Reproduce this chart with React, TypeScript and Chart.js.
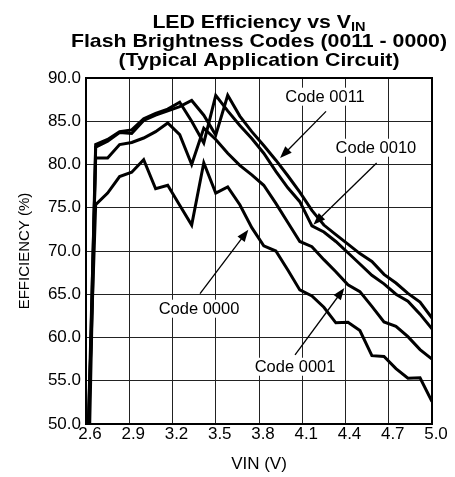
import React, { useEffect, useRef } from "react";
import { Chart, registerables } from "chart.js";

Chart.register(...registerables);

// ---- data ----
const vin = [
  2.6, 2.667, 2.75, 2.833, 2.917, 3.0, 3.083, 3.167, 3.25, 3.333, 3.417, 3.5, 3.583, 3.667, 3.75,
  3.833, 3.917, 4.0, 4.083, 4.167, 4.25, 4.333, 4.417, 4.5, 4.583, 4.667, 4.75, 4.833, 4.917, 5.0,
];
const code0011 = [
  30, 82.0, 82.7, 83.7, 83.6, 85.1, 85.7, 86.2, 86.7, 87.4, 85.7, 83.4, 88.0, 85.6, 83.8,
  82.2, 80.5, 78.7, 76.8, 74.7, 73.0, 71.9, 70.8, 69.7, 68.8, 67.3, 66.3, 65.1, 64.1, 62.25,
];
const code0010 = [
  36, 82.3, 82.9, 83.8, 84.0, 85.3, 85.9, 86.4, 87.2, 85.0, 82.5, 88.0, 86.2, 84.5, 83.0,
  81.3, 79.2, 77.3, 75.7, 72.9, 72.2, 71.1, 69.8, 68.5, 67.2, 66.2, 65.0, 64.2, 62.7, 61.0,
];
const code0001 = [
  40, 80.75, 80.75, 82.3, 82.55, 83.06, 83.8, 84.8, 83.45, 80.0, 84.2, 82.9, 81.3, 79.9, 78.8,
  77.6, 75.5, 73.3, 71.1, 70.5, 69.0, 67.6, 66.1, 65.3, 63.6, 61.8, 61.3, 60.1, 58.6, 57.5,
];
const code0000 = [
  42, 75.35, 76.7, 78.6, 79.1, 80.55, 77.2, 77.6, 75.3, 73.0, 80.2, 76.7, 77.4, 75.35, 72.7,
  70.6, 70.0, 67.8, 65.5, 64.8, 63.5, 61.7, 61.75, 60.8, 57.9, 57.8, 56.4, 55.3, 55.35, 52.6,
];
const xTickLabels = ["2.6", "2.9", "3.2", "3.5", "3.8", "4.1", "4.4", "4.7", "5.0"];
const yTickLabels = ["50.0", "55.0", "60.0", "65.0", "70.0", "75.0", "80.0", "85.0", "90.0"];
const titleMain = "LED Efficiency vs V";
const titleSub = "IN";
const titleLine2 = "Flash Brightness Codes (0011 - 0000)";
const titleLine3 = "(Typical Application Circuit)";
const xTitle = "VIN (V)";
const yTitle = "EFFICIENCY (%)";

// annotation labels and arrows, in data units
const callouts = [
  { text: "Code 0011", at: [4.258, 87.84], from: [4.265, 86.14], to: [3.946, 80.75] },
  { text: "Code 0010", at: [4.611, 81.94], from: [4.616, 80.17], to: [4.177, 73.04] },
  { text: "Code 0000", at: [3.384, 63.33], from: [3.391, 65.06], to: [3.726, 72.46] },
  { text: "Code 0001", at: [4.05, 56.62], from: [4.05, 58.0], to: [4.392, 65.72] },
];

const FONT = "'Liberation Sans', Arial, Helvetica, sans-serif";

const series = [code0011, code0010, code0001, code0000];

const decorPlugin = {
  id: "decor",
  beforeDatasetsDraw(chart: any) {
    const { ctx, chartArea } = chart;
    ctx.save();
    ctx.strokeStyle = "#000";
    ctx.lineWidth = 2;
    ctx.strokeRect(chartArea.left, chartArea.top, chartArea.right - chartArea.left, chartArea.bottom - chartArea.top);
    ctx.restore();
  },
  afterDatasetsDraw(chart: any) {
    const { ctx, chartArea, scales } = chart;
    const xs = scales.x;
    const ys = scales.y;
    ctx.save();
    // callouts
    ctx.font = `16.5px ${FONT}`;
    ctx.textAlign = "center";
    ctx.textBaseline = "middle";
    for (const c of callouts) {
      const px = xs.getPixelForValue(c.at[0]);
      const py = ys.getPixelForValue(c.at[1]);
      const w = ctx.measureText(c.text).width;
      ctx.fillStyle = "#fff";
      ctx.fillRect(px - w / 2 - 3, py - 9, w + 6, 18);
      ctx.fillStyle = "#000";
      ctx.fillText(c.text, px, py + 1);
      const x1 = xs.getPixelForValue(c.from[0]);
      const y1 = ys.getPixelForValue(c.from[1]);
      const x2 = xs.getPixelForValue(c.to[0]);
      const y2 = ys.getPixelForValue(c.to[1]);
      const ang = Math.atan2(y2 - y1, x2 - x1);
      const L = 12;
      const H = 4.5;
      ctx.strokeStyle = "#000";
      ctx.lineWidth = 1.3;
      ctx.beginPath();
      ctx.moveTo(x1, y1);
      ctx.lineTo(x2 - Math.cos(ang) * L * 0.8, y2 - Math.sin(ang) * L * 0.8);
      ctx.stroke();
      ctx.beginPath();
      ctx.moveTo(x2, y2);
      ctx.lineTo(x2 - Math.cos(ang) * L - Math.sin(ang) * H, y2 - Math.sin(ang) * L + Math.cos(ang) * H);
      ctx.lineTo(x2 - Math.cos(ang) * L + Math.sin(ang) * H, y2 - Math.sin(ang) * L - Math.cos(ang) * H);
      ctx.closePath();
      ctx.fillStyle = "#000";
      ctx.fill();
    }
    ctx.restore();

    // title
    const cx = (chartArea.left + chartArea.right) / 2;
    const sx = 1.12;
    ctx.save();
    ctx.fillStyle = "#000";
    ctx.textBaseline = "alphabetic";
    ctx.textAlign = "left";
    ctx.font = `bold 19px ${FONT}`;
    const wMain = ctx.measureText(titleMain).width;
    ctx.font = `bold 13px ${FONT}`;
    const wSub = ctx.measureText(titleSub).width;
    const drawScaled = (text: string, font: string, x: number, y: number) => {
      ctx.save();
      ctx.font = font;
      ctx.translate(x, y);
      ctx.scale(sx, 1);
      ctx.fillText(text, 0, 0);
      ctx.restore();
    };
    const total = (wMain + wSub) * sx;
    const x0 = cx - total / 2;
    drawScaled(titleMain, `bold 19px ${FONT}`, x0, 27.5);
    drawScaled(titleSub, `bold 13px ${FONT}`, x0 + wMain * sx, 31);
    ctx.font = `bold 19px ${FONT}`;
    const w2 = ctx.measureText(titleLine2).width * sx;
    drawScaled(titleLine2, `bold 19px ${FONT}`, cx - w2 / 2, 46.5);
    const w3 = ctx.measureText(titleLine3).width * sx;
    drawScaled(titleLine3, `bold 19px ${FONT}`, cx - w3 / 2, 65.5);
    ctx.restore();
  },
};

export default function App() {
  const ref = useRef<HTMLCanvasElement | null>(null);
  useEffect(() => {
    if (!ref.current) return;
    const chart = new Chart(ref.current, {
      type: "line",
      data: {
        datasets: series.map((s, k) => ({
          label: ["Code 0011", "Code 0010", "Code 0001", "Code 0000"][k],
          data: vin.map((x, i) => ({ x, y: s[i] })),
          borderColor: "#000",
          borderWidth: 3,
          pointRadius: 0,
          tension: 0,
          fill: false,
        })),
      },
      options: {
        responsive: false,
        animation: false,
        events: [],
        layout: { padding: { top: 78, right: 23, bottom: 0, left: 0 } },
        plugins: { legend: { display: false }, title: { display: false }, tooltip: { enabled: false } },
        scales: {
          x: {
            type: "linear",
            min: 2.6,
            max: 5.0,
            afterFit: (s: any) => {
              s.height = 53;
            },
            ticks: {
              stepSize: 0.3,
              padding: 0,
              labelOffset: 4,
              color: "#000",
              font: { family: FONT, size: 17 },
              maxRotation: 0,
              autoSkip: false,
              callback: (_v: any, i: number) => xTickLabels[i] ?? "",
            },
            grid: { color: "#222", lineWidth: 1, drawTicks: false },
            border: { display: false },
            title: { display: true, text: xTitle, color: "#000", font: { family: FONT, size: 17 }, padding: { top: 0, bottom: 2 } },
          },
          y: {
            min: 50,
            max: 90,
            afterFit: (s: any) => {
              s.width = 86;
            },
            ticks: {
              stepSize: 5,
              padding: 5,
              color: "#000",
              font: { family: FONT, size: 17 },
              autoSkip: false,
              callback: (_v: any, i: number) => yTickLabels[i] ?? "",
            },
            grid: { color: "#222", lineWidth: 1, drawTicks: false },
            border: { display: false },
            title: { display: true, text: yTitle, color: "#000", font: { family: FONT, size: 15 }, padding: { top: 16, bottom: 0 } },
          },
        },
      },
      plugins: [decorPlugin],
    } as any);
    return () => chart.destroy();
  }, []);
  return (
    <div style={{ position: "absolute", left: 0, top: 0, width: 455, height: 477, background: "#fff" }}>
      <canvas ref={ref} width={455} height={477} />
    </div>
  );
}
